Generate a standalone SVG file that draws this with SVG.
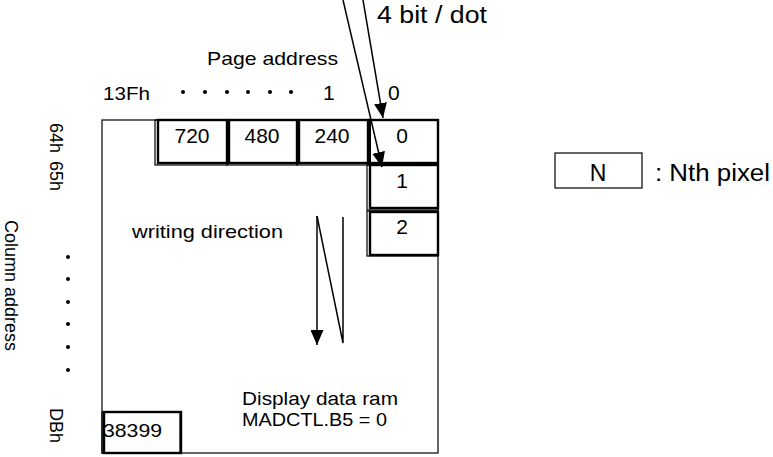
<svg xmlns="http://www.w3.org/2000/svg" width="773" height="457" viewBox="0 0 773 457">
<defs>
<style>
text{font-family:"Liberation Sans",Arial,sans-serif;font-size:19px;fill:#000}
.c{text-anchor:middle}
.bx{font-size:21px}
.big{font-size:23px}
.v{font-size:18px}
.thin{fill:none;stroke:#000;stroke-width:1.2}
.thick{fill:none;stroke:#000;stroke-width:2.4}
.ln{fill:none;stroke:#000;stroke-width:1.5}
</style>
<marker id="ah" viewBox="0 0 15 13" refX="15" refY="6.5" markerWidth="15" markerHeight="13" markerUnits="userSpaceOnUse" orient="auto">
<path d="M0,0 L15,6.5 L0,13 Z" fill="#000"/>
</marker>
</defs>
<rect width="773" height="457" fill="#fff"/>

<g id="frame">
<rect class="thin" x="102" y="120" width="336" height="333"/>
</g>

<g id="labels">
<text class="big" x="377" y="23" textLength="110" lengthAdjust="spacingAndGlyphs">4 bit / dot</text>
<text x="207" y="65" textLength="131" lengthAdjust="spacingAndGlyphs">Page address</text>
<text x="103" y="100" textLength="47" lengthAdjust="spacingAndGlyphs">13Fh</text>
<g fill="#000">
<circle cx="183" cy="92" r="2"/><circle cx="205" cy="92" r="2"/><circle cx="227" cy="92" r="2"/>
<circle cx="248" cy="92" r="2"/><circle cx="270" cy="92" r="2"/><circle cx="291" cy="92" r="2"/>
</g>
<text class="bx" x="323" y="100">1</text>
<text class="bx" x="388" y="100">0</text>
<text class="v" transform="translate(5,220) rotate(90)">Column address</text>
<text class="v" transform="translate(50,123) rotate(90)">64h</text>
<text class="v" transform="translate(50,161) rotate(90)">65h</text>
<g fill="#000">
<circle cx="68" cy="257" r="2"/><circle cx="68" cy="279" r="2"/><circle cx="68" cy="302" r="2"/>
<circle cx="68" cy="324" r="2"/><circle cx="68" cy="347" r="2"/><circle cx="68" cy="370" r="2"/>
</g>
<text class="v" transform="translate(50,408) rotate(90)">DBh</text>
<text x="132" y="238" textLength="151" lengthAdjust="spacingAndGlyphs">writing direction</text>
<text x="242" y="405" textLength="156" lengthAdjust="spacingAndGlyphs">Display data ram</text>
<text x="242" y="426" textLength="145" lengthAdjust="spacingAndGlyphs">MADCTL.B5 = 0</text>
</g>

<g id="p720">
<rect class="thin" x="155" y="120" width="72" height="45"/>
<rect class="thick" x="158" y="120" width="69" height="43"/>
<text class="c bx" x="192" y="143">720</text>
</g>
<g id="p480">
<rect class="thin" x="227" y="120" width="70" height="45"/>
<rect class="thick" x="229" y="120" width="68" height="43"/>
<text class="c bx" x="262" y="143">480</text>
</g>
<g id="p240">
<rect class="thin" x="297" y="120" width="71" height="45"/>
<rect class="thick" x="299" y="120" width="69" height="43"/>
<text class="c bx" x="332" y="143">240</text>
</g>
<g id="p0">
<rect class="thin" x="368" y="120" width="70" height="45"/>
<rect class="thick" x="369" y="120" width="69" height="43"/>
<line x1="369" y1="120" x2="369" y2="163" stroke="#000" stroke-width="4"/>
<text class="c bx" x="402" y="143">0</text>
</g>
<g id="p1">
<rect class="thin" x="367" y="165" width="71" height="45"/>
<rect class="thick" x="370" y="165" width="68" height="43"/>
<text class="c bx" x="402" y="188">1</text>
</g>
<g id="p2">
<rect class="thin" x="367" y="211" width="71" height="45"/>
<rect class="thick" x="370" y="212" width="68" height="43"/>
<text class="c bx" x="402" y="234">2</text>
</g>
<g id="p38399">
<rect class="thin" x="102" y="412" width="78" height="41"/>
<rect class="thick" x="104" y="412" width="77" height="41"/>
<text x="103" y="437" textLength="59" lengthAdjust="spacingAndGlyphs">38399</text>
</g>
<g id="legend">
<rect class="thin" x="555" y="153" width="87" height="35"/>
<text class="c big" x="598" y="181">N</text>
<text class="big" x="655" y="181" textLength="115" lengthAdjust="spacingAndGlyphs">: Nth pixel</text>
</g>

<g id="connectors">
<line class="ln" x1="343" y1="0" x2="382" y2="167" marker-end="url(#ah)"/>
<line class="ln" x1="363" y1="0" x2="383" y2="118" marker-end="url(#ah)"/>
<line class="ln" x1="317" y1="216" x2="317" y2="345" marker-end="url(#ah)"/>
<polyline class="ln" points="317,216 343,343 343,217"/>
</g>
</svg>
